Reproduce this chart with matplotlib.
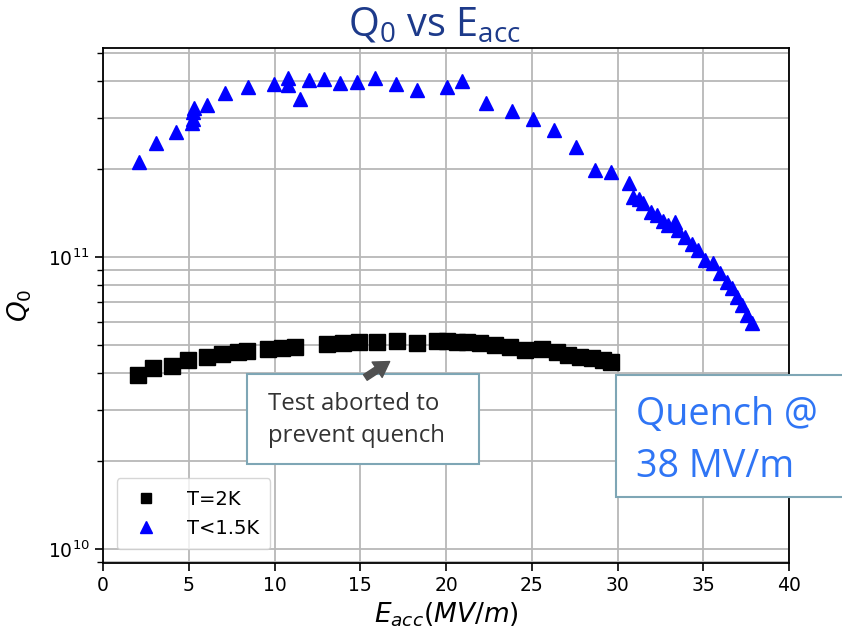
"""Q0 vs Eacc cavity test plot with slide-style callouts."""

import matplotlib

matplotlib.use("Agg")
import matplotlib.pyplot as plt
import numpy as np
from matplotlib.patches import FancyArrowPatch, Rectangle
from matplotlib.ticker import LogLocator, NullFormatter

# T = 2 K run (stopped early)
eacc_2k = [2.02, 2.93, 4.00, 4.98, 6.05, 6.92, 7.89, 8.38, 9.64, 10.42, 11.20,
           13.04, 13.98, 14.94, 15.96, 17.12, 18.29, 19.46, 20.04, 20.62, 21.21,
           21.98, 22.86, 23.73, 24.61, 25.58, 26.45, 27.14, 27.81, 28.50, 29.17,
           29.60]
q0_2k = [3.96e10, 4.16e10, 4.24e10, 4.44e10, 4.56e10, 4.65e10, 4.74e10, 4.76e10,
         4.83e10, 4.89e10, 4.93e10, 5.02e10, 5.09e10, 5.13e10, 5.13e10, 5.15e10,
         5.09e10, 5.16e10, 5.16e10, 5.13e10, 5.11e10, 5.06e10, 5.00e10, 4.93e10,
         4.81e10, 4.83e10, 4.74e10, 4.61e10, 4.53e10, 4.50e10, 4.44e10, 4.38e10]

# T < 1.5 K run (to quench)
eacc_15k = [2.12, 3.07, 4.26, 5.17, 5.25, 5.22, 5.28, 6.05, 7.11, 8.47, 9.97,
            10.77, 10.81, 11.49, 12.01, 12.89, 13.82, 14.79, 15.86, 17.08, 18.29,
            20.08, 20.91, 22.31, 23.83, 25.09, 26.30, 27.58, 28.69, 29.62, 30.69,
            30.92, 31.27, 31.50, 31.93, 32.28, 32.63, 32.96, 33.35, 33.55, 33.94,
            34.33, 34.71, 35.10, 35.59, 35.98, 36.37, 36.66, 36.95, 37.24, 37.53,
            37.82]
q0_15k = [2.12e11, 2.45e11, 2.69e11, 2.87e11, 2.98e11, 3.15e11, 3.25e11, 3.32e11,
          3.64e11, 3.81e11, 3.91e11, 4.09e11, 3.88e11, 3.49e11, 4.04e11, 4.06e11,
          3.96e11, 3.98e11, 4.09e11, 3.93e11, 3.73e11, 3.81e11, 4.02e11, 3.38e11,
          3.17e11, 2.97e11, 2.72e11, 2.39e11, 1.99e11, 1.96e11, 1.79e11, 1.61e11,
          1.58e11, 1.53e11, 1.43e11, 1.39e11, 1.33e11, 1.29e11, 1.32e11, 1.24e11,
          1.17e11, 1.11e11, 1.06e11, 9.77e10, 9.51e10, 8.79e10, 8.22e10, 7.82e10,
          7.31e10, 6.85e10, 6.32e10, 5.93e10]

W, H = 842, 631


def px(x, y):
    """Pixel position (top-left origin) -> figure fraction."""
    return x / W, 1 - y / H


fig = plt.figure(figsize=(W / 100, H / 100), dpi=100)
ax = fig.add_axes([103 / W, 1 - 563 / H, (789 - 103) / W, (563 - 48) / H])

ax.plot(eacc_2k, q0_2k, "s", color="black", ms=11, label="T=2K", zorder=3)
ax.plot(eacc_15k, q0_15k, "^", color="blue", ms=9.5, label="T<1.5K", zorder=3)

ax.set_yscale("log")
ax.set_xlim(0, 40)
ax.set_ylim(8.96e9, 5.2e11)
ax.set_xticks(np.arange(0, 41, 5))
ax.yaxis.set_minor_locator(LogLocator(base=10, subs=np.arange(2, 10)))
ax.yaxis.set_minor_formatter(NullFormatter())
ax.tick_params(axis="both", which="major", labelsize=13.5, length=6, width=1.2)
ax.tick_params(axis="y", which="minor", length=4, width=1.0)
for s in ax.spines.values():
    s.set_linewidth(1.3)

ax.grid(True, which="major", color="#b8b8b8", lw=1.3)
ax.grid(True, which="minor", axis="y", color="#b8b8b8", lw=1.3)
ax.set_axisbelow(True)

ax.set_xlabel(r"$E_{acc}(MV/m)$", fontsize=19, labelpad=4)
ax.set_ylabel(r"$Q_0$", fontsize=19, labelpad=10)

leg = ax.legend(loc="lower left", fontsize=14, borderpad=0.6, handletextpad=1.2,
                labelspacing=0.5, borderaxespad=0.7, handlelength=1.8)
leg.legend_handles[0].set_markersize(7)
leg.legend_handles[1].set_markersize(9)

# slide title
fig.text(434 / W, 1 - 36 / H, r"Q$_\mathregular{0}$ vs E$_\mathregular{acc}$",
         ha="center", va="baseline", fontsize=28.5, color="#1d3a8a",
         family="Open Sans")

# callout: aborted test
x0, y0 = px(247, 464)
x1, y1 = px(479, 374)
fig.add_artist(Rectangle((x0, y0), x1 - x0, y1 - y0, transform=fig.transFigure,
                         facecolor="white", edgecolor="#7ea6b5", lw=1.5, zorder=5))
fig.text(*px(268, 410), "Test aborted to", fontsize=17.3, color="#333333",
         family="Open Sans", va="baseline", zorder=6)
fig.text(*px(268, 442), "prevent quench", fontsize=17.3, color="#333333",
         family="Open Sans", va="baseline", zorder=6)
fig.add_artist(FancyArrowPatch(px(363, 379), px(392, 360), transform=fig.transFigure,
                               arrowstyle="simple,head_length=0.9,head_width=1.1,tail_width=0.4",
                               mutation_scale=12, color="#505050", zorder=6))

# callout: quench field
x0, y0 = px(616, 497)
x1, y1 = px(850, 375)
fig.add_artist(Rectangle((x0, y0), x1 - x0, y1 - y0, transform=fig.transFigure,
                         facecolor="white", edgecolor="#7ea6b5", lw=1.5, zorder=5))
fig.text(*px(636, 425), "Quench @", fontsize=27.2, color="#2f75f5",
         family="Open Sans", va="baseline", zorder=6)
fig.text(*px(636, 477), "38 MV/m", fontsize=27.2, color="#2f75f5",
         family="Open Sans", va="baseline", zorder=6)

fig.savefig("out.png", dpi=100)
plt.close(fig)
